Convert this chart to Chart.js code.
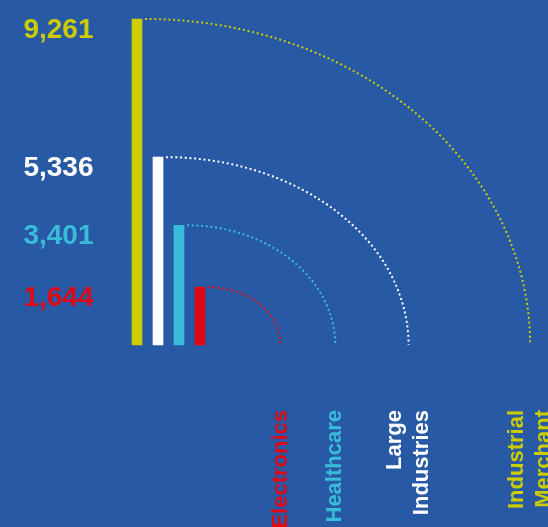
<!DOCTYPE html>
<html>
<head>
<meta charset="utf-8">
<script src="https://cdn.jsdelivr.net/npm/chart.js@4.4.1/dist/chart.umd.min.js"></script>
<style>
  html, body { margin: 0; padding: 0; background: #2759a5; }
  #wrap { width: 548px; height: 527px; position: relative; }
</style>
</head>
<body>
<div id="wrap"><canvas id="chart"></canvas></div>
<script>
// bar order, left to right
const categories = ['Industrial Merchant', 'Large Industries', 'Healthcare', 'Electronics'];
const values = [9261, 5336, 3401, 1644];
const colors = ['#cccc00', '#ffffff', '#38bcd9', '#dd0a16'];

// x span: the bars sit at its left end, each category label at its value
const X_MIN = -1980;
const X_MAX = 10270;

const FONT = 'Liberation Sans, Arial, Helvetica, sans-serif';
const catFont = { family: FONT, size: 22, weight: 'bold', lineHeight: 1.22 };
const valFont = { family: FONT, size: 28, weight: 'bold' };

function colorOf(v) { return colors[values.indexOf(v)]; }

// dotted quarter arcs from each bar top down to its category label
const arcPlugin = {
  id: 'quarterArcs',
  afterDatasetsDraw(chart) {
    const { ctx, scales: { x, y } } = chart;
    const base = y.getPixelForValue(0);
    const lineH = catFont.size * catFont.lineHeight;
    ctx.save();
    ctx.lineWidth = 2;
    ctx.setLineDash([2, 2.7]);
    values.forEach((v, i) => {
      const bar = chart.getDatasetMeta(i).data[0];
      const lines = categories[i].split(' ').length;
      const cx = bar.x + bar.width / 2 + 3;
      const endX = x.getPixelForValue(v) + (lines - 1) * lineH / 2;
      ctx.strokeStyle = colors[i];
      ctx.beginPath();
      ctx.ellipse(cx, base, endX - cx, base - bar.y, 0, -Math.PI / 2, 0);
      ctx.stroke();
    });
    ctx.restore();
  }
};

new Chart(document.getElementById('chart'), {
  type: 'bar',
  data: {
    datasets: categories.map((c, i) => ({
      label: c,
      data: [{ x: X_MIN, y: values[i] }],
      backgroundColor: colors[i],
      barThickness: 21,
      maxBarThickness: 10,
      clip: false
    }))
  },
  options: {
    responsive: true,
    maintainAspectRatio: false,
    animation: false,
    layout: { padding: { top: 19 } },
    plugins: { legend: { display: false }, tooltip: { enabled: false } },
    scales: {
      x: {
        type: 'linear',
        offset: false,
        min: X_MIN,
        max: X_MAX,
        grid: { display: false, drawTicks: false, offset: false },
        border: { display: false },
        afterBuildTicks: s => { s.ticks = values.slice().sort((a, b) => a - b).map(v => ({ value: v })); },
        afterFit: s => { s.height = 182; s.paddingLeft = 0; s.paddingRight = 0; },
        ticks: {
          autoSkip: false,
          minRotation: 90,
          maxRotation: 90,
          padding: 65,
          font: catFont,
          color: c => colorOf(c.tick.value),
          callback: v => categories[values.indexOf(v)].split(' ')
        }
      },
      y: {
        min: 0,
        max: Math.max(...values),
        grid: { display: false, drawTicks: false },
        border: { display: false },
        afterBuildTicks: s => { s.ticks = values.map(v => ({ value: v })); },
        afterFit: s => { s.width = 168.5; s.paddingTop = 0; s.paddingBottom = 0; },
        ticks: {
          padding: 75,
          labelOffset: 11,
          font: valFont,
          color: c => colorOf(c.tick.value),
          callback: v => v.toLocaleString('en-US')
        }
      }
    }
  },
  plugins: [arcPlugin]
});
</script>
</body>
</html>
